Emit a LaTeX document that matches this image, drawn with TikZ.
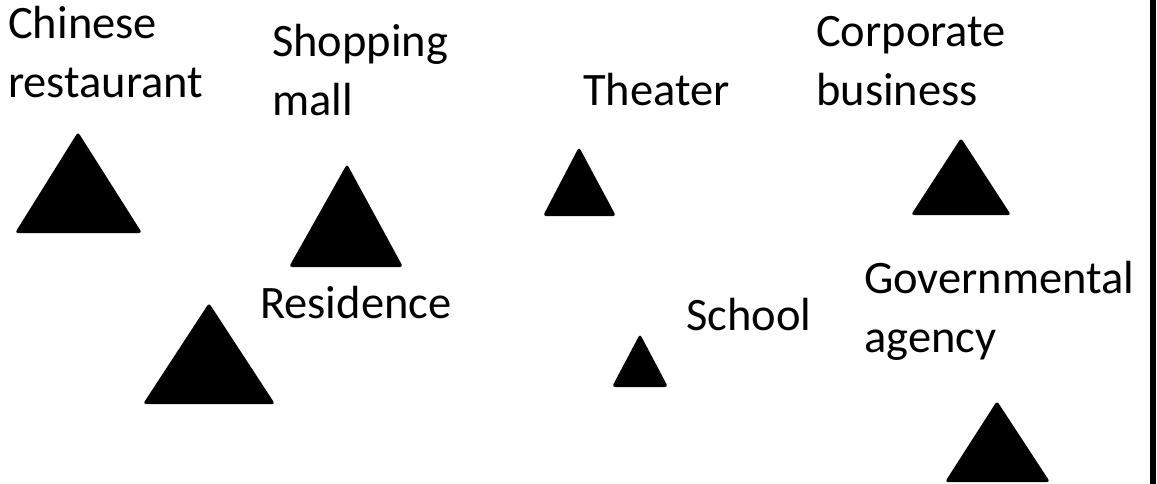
\documentclass[tikz,border=0pt]{standalone}
\usepackage{fontspec}
\setmainfont{Carlito}
\tikzset{
  place/.style={anchor=base west,inner sep=0pt,align=left,
    font=\fontsize{46.5}{59}\selectfont},
  marker/.style={fill=black,rounded corners=3pt},
}
\begin{document}
\begin{tikzpicture}[x=1pt,y=-1pt]
    \useasboundingbox (0,0) rectangle (1157,484);
    %% right border
    \draw[line width=6pt] (1153,0) -- (1153,484);
    %% upper row of places
    \fill[marker] (78,132) -- (142,233) -- (15,233) -- cycle;
    \fill[marker] (347,164) -- (403,267) -- (289,267) -- cycle;
    \fill[marker] (579,147) -- (616,216) -- (543,216) -- cycle;
    \fill[marker] (961,138) -- (1011,215) -- (911,215) -- cycle;
    %% lower row of places
    \fill[marker] (209,303) -- (275,404) -- (143,404) -- cycle;
    \fill[marker] (640,334) -- (668,387) -- (612,387) -- cycle;
    \fill[marker] (997,401) -- (1050,482) -- (945,482) -- cycle;
    %% labels (base = last line)
    \node[place] (chinese) at (8,98) {Chinese\\restaurant};
    \node[place] (mall) at (272,116) {Shopping\\mall};
    \node[place] (theater) at (583,106) {Theater};
    \node[place] (corporate) at (816,106) {Corporate\\business};
    \node[place] (residence) at (260,318) {Residence};
    \node[place] (school) at (686,330) {School};
    \node[place] (agency) at (864,352) {Governmental\\agency};
\end{tikzpicture}
\end{document}
